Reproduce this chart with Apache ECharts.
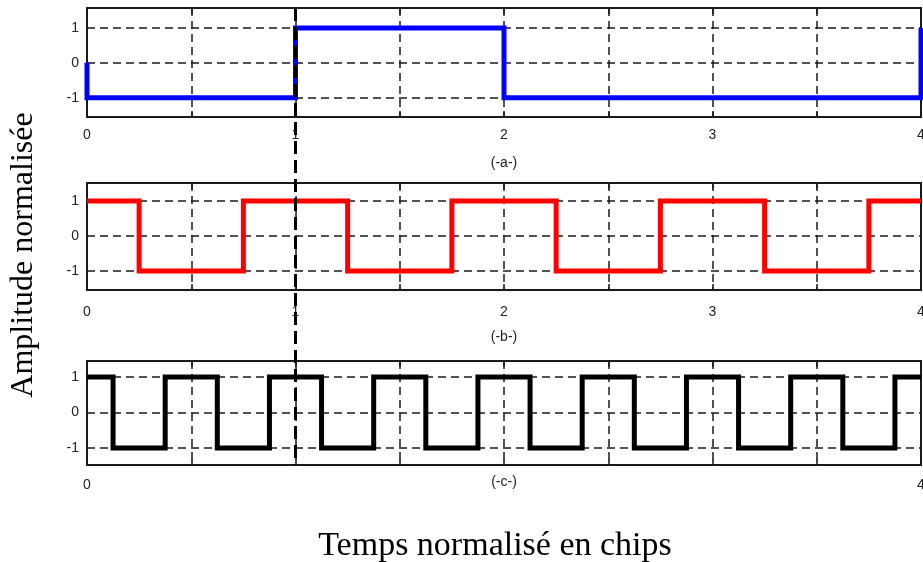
<!DOCTYPE html>
<html>
<head>
<meta charset="utf-8">
<script src="https://cdn.jsdelivr.net/npm/echarts@6/dist/echarts.min.js"></script>
<style>
  html, body { margin: 0; padding: 0; background: #fff; }
  #chart { width: 923px; height: 562px; }
</style>
</head>
<body>
<div id="chart"></div>
<script>
// Signal breakpoints: each [t, level] holds its level until the next t.
const dataSignal = [[0, 0], [0, -1], [1, 1], [2, -1], [4, 1]];
const codeSignal = [[0, 1], [0.25, -1], [0.75, 1], [1.25, -1], [1.75, 1], [2.25, -1], [2.75, 1], [3.25, -1], [3.75, 1], [4, 1]];
const chipSignal = [[0, 1], [0.125, -1], [0.375, 1], [0.625, -1], [0.875, 1], [1.125, -1], [1.375, 1], [1.625, -1],
                    [1.875, 1], [2.125, -1], [2.375, 1], [2.625, -1], [2.875, 1], [3.125, -1], [3.375, 1], [3.625, -1],
                    [3.875, 1], [4, 1]];

const panelNames = ['(-a-)', '(-b-)', '(-c-)'];
const panelColors = ['#0000ff', '#ff0000', '#000000'];
const yTickValues = [-1, 0, 1];
const xLabelValues = [[0, 1, 2, 3, 4], [0, 1, 2, 3, 4], [0, 4]];
const markerTime = 1;

const xAxisTitle = 'Temps normalisé en chips';
const yAxisTitle = 'Amplitude normalisée';

// layout of the three stacked panels
const grids = [
  { left: 87, right: 2, top: 8, height: 109, outerBoundsMode: 'none' },
  { left: 87, right: 2, top: 183, height: 107, outerBoundsMode: 'none' },
  { left: 87, right: 2, top: 361, height: 104, outerBoundsMode: 'none' }
];
const yRanges = [[-1.55, 1.57], [-1.54, 1.51], [-1.48, 1.45]];
const labelMargins = [11, 15, 13];
const nameGaps = [39, 40, 10];

const ink = '#1a1a1a';
const tickFont = { fontFamily: 'Liberation Sans, Arial, sans-serif', fontSize: 14, color: '#222' };

const chart = echarts.init(document.getElementById('chart'), null, { renderer: 'canvas' });

const xAxes = [];
const yAxes = [];
grids.forEach((g, i) => {
  const shown = xLabelValues[i];
  xAxes.push({
    type: 'value', gridIndex: i, position: 'bottom', min: 0, max: 4, interval: 0.5,
    name: panelNames[i], nameLocation: 'middle', nameGap: nameGaps[i], nameMoveOverlap: false,
    nameTextStyle: Object.assign({}, tickFont),
    axisLine: { show: true, onZero: false, lineStyle: { color: ink, width: 2 } },
    axisTick: { show: true, inside: true, length: 6, lineStyle: { color: ink, width: 1.5 } },
    axisLabel: {
      show: true, margin: labelMargins[i], showMinLabel: true, showMaxLabel: true, hideOverlap: false,
      formatter: v => (shown.indexOf(v) >= 0 ? String(v) : ''),
      ...tickFont
    },
    splitLine: { show: true, lineStyle: { color: ink, width: 1.5, type: [8, 5] } }
  });
  yAxes.push({
    type: 'value', gridIndex: i, min: yRanges[i][0], max: yRanges[i][1],
    axisLine: { show: true, onZero: false, lineStyle: { color: ink, width: 2 } },
    axisTick: { show: false, customValues: yTickValues },
    axisLabel: { show: true, margin: 8, customValues: yTickValues, ...tickFont },
    splitLine: { show: true, lineStyle: { color: ink, width: 1.5, type: [8, 5] } }
  });
});
// top edge of each box, with inward ticks
grids.forEach((g, i) => {
  xAxes.push({
    type: 'value', gridIndex: i, position: 'top', min: 0, max: 4, interval: 0.5,
    axisLine: { show: true, onZero: false, lineStyle: { color: ink, width: 2 } },
    axisTick: { show: true, inside: true, length: 6, lineStyle: { color: ink, width: 1.5 } },
    axisLabel: { show: false },
    splitLine: { show: false }
  });
});
// right edge of each box
grids.forEach((g, i) => {
  yAxes.push({
    type: 'value', gridIndex: i, position: 'right', min: yRanges[i][0], max: yRanges[i][1],
    axisLine: { show: true, onZero: false, lineStyle: { color: ink, width: 2 } },
    axisTick: { show: false }, axisLabel: { show: false }, splitLine: { show: false }
  });
});

const signals = [dataSignal, codeSignal, chipSignal];
const series = signals.map((s, i) => ({
  type: 'line', xAxisIndex: i, yAxisIndex: i, data: s, step: 'end',
  showSymbol: false, clip: false, animation: false, z: 5,
  lineStyle: { color: panelColors[i], width: 5, cap: 'butt', join: 'miter' }
}));

chart.setOption({
  animation: false,
  grid: grids,
  xAxis: xAxes,
  yAxis: yAxes,
  series: series
});

// dashed time marker running through all three panels
const mx = chart.convertToPixel({ xAxisIndex: 0 }, markerTime);
const yTop = chart.convertToPixel({ yAxisIndex: 0 }, yRanges[0][1]);
const yBottom = chart.convertToPixel({ yAxisIndex: 2 }, yRanges[2][0]);

chart.setOption({
  graphic: [
    {
      type: 'line', z: 20,
      shape: { x1: mx, y1: yTop, x2: mx, y2: yBottom },
      style: { stroke: '#000', lineWidth: 3, lineDash: [13, 6] }
    },
    {
      type: 'text', x: 495, y: 546, z: 20,
      style: { text: xAxisTitle, font: '34px "Liberation Serif", serif', fill: '#000', align: 'center', verticalAlign: 'middle' }
    },
    {
      type: 'text', x: 24, y: 255, rotation: Math.PI / 2, z: 20,
      style: { text: yAxisTitle, font: '32px "Liberation Serif", serif', fill: '#000', align: 'center', verticalAlign: 'middle' }
    }
  ]
});
</script>
</body>
</html>
